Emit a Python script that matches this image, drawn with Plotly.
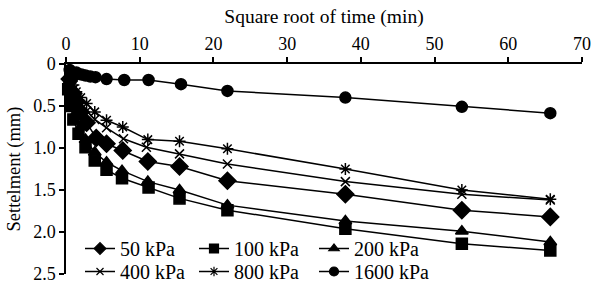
import plotly.graph_objects as go

# Square root of time (min) values and settlement (mm) for each pressure
x_50 = [0.5, 1.0, 1.4, 2.0, 2.8, 4.1, 5.5, 7.7, 11.1, 15.4, 21.9, 37.9, 53.7, 65.7]
y_50 = [0.18, 0.35, 0.45, 0.57, 0.70, 0.88, 0.95, 1.03, 1.16, 1.22, 1.39, 1.55, 1.74, 1.82]

x_100 = [0.3, 0.6, 0.75, 1.0, 1.7, 2.65, 3.9, 5.5, 7.6, 11.2, 15.4, 21.9, 37.9, 53.7, 65.7]
y_100 = [0.30, 0.40, 0.50, 0.66, 0.83, 0.99, 1.15, 1.26, 1.36, 1.47, 1.60, 1.74, 1.96, 2.14, 2.22]

x_200 = [0.5, 1.0, 1.4, 2.0, 2.65, 3.9, 5.5, 7.6, 11.1, 15.4, 21.9, 37.9, 53.7, 65.7]
y_200 = [0.20, 0.42, 0.58, 0.75, 0.90, 1.05, 1.17, 1.27, 1.40, 1.50, 1.68, 1.87, 1.99, 2.12]

x_400 = [0.5, 1.0, 1.4, 2.0, 2.8, 3.9, 5.5, 7.8, 10.9, 15.4, 21.9, 37.9, 53.7, 65.7]
y_400 = [0.17, 0.30, 0.40, 0.48, 0.56, 0.66, 0.76, 0.89, 0.99, 1.07, 1.19, 1.40, 1.55, 1.62]

x_800 = [0.5, 1.0, 1.4, 2.0, 2.8, 3.9, 5.5, 7.7, 11.1, 15.4, 21.9, 37.9, 53.7, 65.7]
y_800 = [0.15, 0.25, 0.33, 0.40, 0.47, 0.57, 0.67, 0.75, 0.90, 0.92, 1.01, 1.25, 1.50, 1.61]

x_1600 = [0.5, 1.4, 2.1, 2.65, 3.3, 4.0, 5.5, 7.9, 11.2, 15.6, 21.9, 37.9, 53.7, 65.7]
y_1600 = [0.07, 0.10, 0.125, 0.137, 0.15, 0.157, 0.18, 0.19, 0.19, 0.24, 0.32, 0.40, 0.51, 0.585]

series_names = ["50 kPa", "100 kPa", "200 kPa", "400 kPa", "800 kPa", "1600 kPa"]

x_ticks = [0, 10, 20, 30, 40, 50, 60, 70]
y_tickvals = [0, 0.5, 1.0, 1.5, 2.0, 2.5]
y_ticktext = ["0", "0.5", "1.0", "1.5", "2.0", "2.5"]

FONT = "Liberation Serif, DejaVu Serif, serif"
FS = 18

xs = [x_50, x_100, x_200, x_400, x_800, x_1600]
ys = [y_50, y_100, y_200, y_400, y_800, y_1600]
symbols = ["diamond", "square", "triangle-up", "x-thin-open", "asterisk-open", "circle"]
sizes = [13, 11, 11, 9, 10, 11]
leg_sizes = [9, 9, 9, 7, 8, 9]
legend_ids = ["legend", "legend2", "legend3", "legend4", "legend5", "legend6"]

fig = go.Figure()
for name, x, y, sym, sz in zip(series_names, xs, ys, symbols, sizes):
    fig.add_trace(go.Scatter(
        x=x, y=y, name=name, mode="lines+markers",
        line=dict(color="black", width=1.5),
        marker=dict(symbol=sym, size=sz, color="black",
                    line=dict(color="black", width=1.5)),
        cliponaxis=False, showlegend=False,
    ))
# legend entries with smaller sample markers
for name, sym, sz, lg in zip(series_names, symbols, leg_sizes, legend_ids):
    fig.add_trace(go.Scatter(
        x=[None], y=[None], name=name, mode="lines+markers",
        line=dict(color="black", width=1.5),
        marker=dict(symbol=sym, size=sz, color="black",
                    line=dict(color="black", width=1.2)),
        legend=lg, showlegend=True,
    ))

W, H = 591, 287
ml, mr, mt, mb = 66, 9, 64, 13
pw = W - ml - mr
ph = H - mt - mb

def px_to_paper_x(px):
    return (px - ml) / pw

def px_to_paper_y(py):
    return (H - mb - py) / ph

leg_common = dict(orientation="v", bgcolor="rgba(0,0,0,0)", borderwidth=0,
                  font=dict(family=FONT, size=20, color="black"),
                  yanchor="top", xanchor="left", tracegroupgap=0,
                  itemwidth=30)
col_px = [80, 194, 314]
row_top_px = [229, 252]
legend_layout = {}
for i, lg in enumerate(legend_ids):
    r, c = divmod(i, 3)
    legend_layout[lg] = dict(x=px_to_paper_x(col_px[c]), y=px_to_paper_y(row_top_px[r]),
                             **leg_common)

fig.update_layout(
    width=W, height=H,
    margin=dict(l=ml, r=mr, t=mt, b=mb, autoexpand=False),
    paper_bgcolor="white", plot_bgcolor="white",
    font=dict(family=FONT, size=FS, color="black"),
    showlegend=True,
    **legend_layout,
    xaxis=dict(
        side="top", range=[0, 70], tickvals=x_ticks, automargin=False,
        showline=True, linecolor="black", linewidth=1.5,
        ticks="outside", ticklen=5, tickwidth=1.5, tickcolor="black",
        showgrid=False, zeroline=False,
        tickfont=dict(family=FONT, size=FS, color="black"),
        title=dict(text="Square root of time (min)", standoff=5,
                   font=dict(family=FONT, size=19.5, color="black")),
    ),
    yaxis=dict(
        range=[2.5, 0], tickvals=y_tickvals, ticktext=y_ticktext, automargin=False,
        showline=True, linecolor="black", linewidth=1.5,
        ticks="outside", ticklen=5, tickwidth=1.5, tickcolor="black",
        showgrid=False, zeroline=False,
        tickfont=dict(family=FONT, size=FS, color="black"),
        title=dict(text="Settelment (mm)", standoff=8,
                   font=dict(family=FONT, size=18.5, color="black")),
    ),
)

fig.write_html("out.html", config={"displayModeBar": False},
               post_script="document.body.style.margin='0';")
